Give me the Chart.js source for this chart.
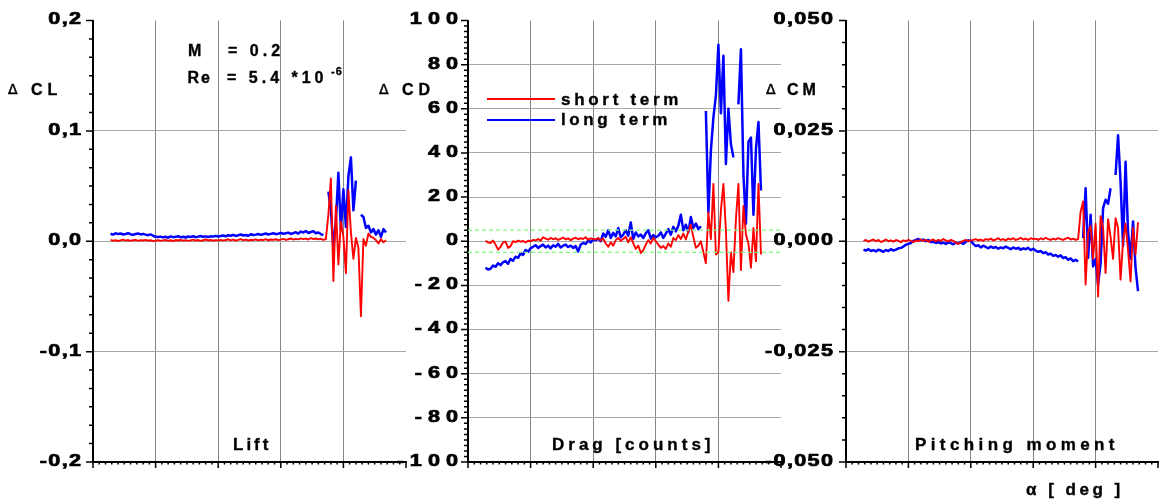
<!DOCTYPE html>
<html>
<head>
<meta charset="utf-8">
<script src="https://cdn.jsdelivr.net/npm/chart.js@4/dist/chart.umd.min.js"></script>
<style>
  html, body { margin: 0; padding: 0; background: #fff; }
  #wrap { position: relative; width: 1160px; height: 502px; overflow: hidden;
          font-family: "Liberation Sans", Arial, sans-serif; color: #000; }
  #wrap canvas { position: absolute; left: 0; top: 0; }
  .t { position: absolute; white-space: pre; line-height: 1; font-weight: 700;
       -webkit-text-stroke: 0.35px #000; }
  .d { position: absolute; white-space: pre; line-height: 1; font-weight: 400;
       font-family: "DejaVu Sans", sans-serif; font-size: 14px; -webkit-text-stroke: 0.5px #000; }
  .key { position: absolute; left: 487px; width: 68px; }
</style>
</head>
<body>
<div id="wrap">
  <canvas id="lift" width="1160" height="502"></canvas>
  <canvas id="drag" width="1160" height="502"></canvas>
  <canvas id="moment" width="1160" height="502"></canvas>

  <!-- axis titles -->
  <div class="d" style="left:8px;top:82px">Δ</div>
  <div class="t" style="left:31px;top:81.5px;font-size:16px;letter-spacing:5px">CL</div>
  <div class="d" style="left:379px;top:82px">Δ</div>
  <div class="t" style="left:402px;top:81.5px;font-size:16px;letter-spacing:5px">CD</div>
  <div class="d" style="left:766px;top:82px">Δ</div>
  <div class="t" style="left:787px;top:81.5px;font-size:16px;letter-spacing:4px">CM</div>

  <!-- test conditions -->
  <div class="t" style="left:188px;top:43.2px;font-size:16px">M</div>
  <div class="t" style="left:228px;top:43.2px;font-size:16px;letter-spacing:4px">= 0.2</div>
  <div class="t" style="left:187.5px;top:69.8px;font-size:16px;letter-spacing:2px">Re</div>
  <div class="t" style="left:227px;top:69.8px;font-size:16px;letter-spacing:4px">= 5.4 *10</div>
  <div class="t" style="left:331px;top:65.7px;font-size:11px;letter-spacing:1px">-6</div>

  <!-- panel names -->
  <div class="t" style="left:233px;top:435.6px;font-size:17px;letter-spacing:3px">Lift</div>
  <div class="t" style="left:552px;top:436px;font-size:17px;letter-spacing:4px">Drag [counts]</div>
  <div class="t" style="left:915px;top:435.6px;font-size:17px;letter-spacing:4.4px">Pitching moment</div>
  <div class="t" style="left:1026px;top:481.1px;font-size:17px;letter-spacing:3.5px">α [ deg ]</div>

  <!-- legend -->
  <div class="key" style="top:97.9px;height:1.8px;background:#ff0000"></div>
  <div class="key" style="top:118.7px;height:2.5px;background:#0000ff"></div>
  <div class="t" style="left:561px;top:90.8px;font-size:17px;letter-spacing:3.7px">short term</div>
  <div class="t" style="left:561px;top:110.8px;font-size:17px;letter-spacing:3.6px">long term</div>
</div>

<script>
// angle of attack, deg
const alpha = [
  -3.6, -3.4, -3.2, -3.0, -2.8, -2.6, -2.4, -2.2, -2.0, -1.8,
  -1.6, -1.4, -1.2, -1.0, -0.8, -0.6, -0.4, -0.2, 0.0, 0.2,
  0.4, 0.6, 0.8, 1.0, 1.2, 1.4, 1.6, 1.8, 2.0, 2.2,
  2.4, 2.6, 2.8, 3.0, 3.2, 3.4, 3.6, 3.8, 4.0, 4.2,
  4.4, 4.6, 4.8, 5.0, 5.2, 5.4, 5.6, 5.8, 6.0, 6.2,
  6.4, 6.6, 6.8, 7.0, 7.2, 7.4, 7.6, 7.8, 8.0, 8.2,
  8.4, 8.6, 8.8, 9.0, 9.2, 9.4, 9.6, 9.8, 10.0, 10.2,
  10.4, 10.6, 10.8, 11.0, 11.2, 11.4, 11.6, 11.8, 12.0, 12.2,
  12.4, 12.6, 12.8, 13.0, 13.2, 13.4, 13.6, 13.8, 14.0, 14.2,
  14.4, 14.6, 14.8, 15.0, 15.2, 15.4, 15.6, 15.8, 16.0, 16.2,
  16.4, 16.6, 16.8, 17.0, 17.2, 17.4, 17.6, 17.8, 18.0, 18.2,
  18.4
];
const alphaMin = -5;
const alphaMax = 20;

// lift difference
const liftShort = [
  0.0012, 0.0005, 0.0010, 0.0002, 0.0008, 0.0014, 0.0006, 0.0011, 0.0003, 0.0009,
  0.0013, 0.0004, 0.0010, 0.0007, 0.0012, 0.0005, 0.0009, 0.0001, 0.0006, 0.0010,
  0.0003, 0.0008, 0.0012, 0.0004, 0.0009, 0.0002, 0.0011, 0.0007, 0.0013, 0.0005,
  0.0010, 0.0003, 0.0008, 0.0014, 0.0006, 0.0011, 0.0004, 0.0009, 0.0016, 0.0007,
  0.0012, 0.0005, 0.0010, 0.0008, 0.0013, 0.0006, 0.0011, 0.0018, 0.0008, 0.0014,
  0.0005, 0.0012, 0.0020, 0.0009, 0.0015, 0.0007, 0.0013, 0.0010, 0.0017, 0.0008,
  0.0014, 0.0011, 0.0019, 0.0009, 0.0016, 0.0012, 0.0018, 0.0010, 0.0015, 0.0021,
  0.0013, 0.0018, 0.0025, 0.0015, 0.0022, 0.0017, 0.0026, 0.0019, 0.0024, 0.0016,
  0.0028, 0.0020, 0.0025, 0.0018, 0.0022, 0.0012, 0.002, 0.024, 0.057, -0.036,
  0.032, -0.021, 0.018, 0.004, -0.029, 0.046, 0.008, -0.016, 0.003, -0.006,
  -0.068, 0.002, -0.004, 0.007, 0.004, 0.003, 0.001, -0.002, 0.002, -0.001,
  0.001
];
const liftLong = [
  0.0068, 0.0060, 0.0072, 0.0065, 0.0070, 0.0061, 0.0066, 0.0073, 0.0064, 0.0058,
  0.0066, 0.0071, 0.0062, 0.0067, 0.0060, 0.0055, 0.0062, 0.0050, 0.0040, 0.0038,
  0.0042, 0.0035, 0.0041, 0.0032, 0.0044, 0.0037, 0.0040, 0.0046, 0.0036, 0.0041,
  0.0034, 0.0043, 0.0039, 0.0045, 0.0037, 0.0042, 0.0048, 0.0040, 0.0044, 0.0038,
  0.0046, 0.0042, 0.0049, 0.0043, 0.0047, 0.0052, 0.0045, 0.0055, 0.0050, 0.0058,
  0.0048, 0.0054, 0.0061, 0.0052, 0.0057, 0.0050, 0.0063, 0.0056, 0.0060, 0.0066,
  0.0058, 0.0064, 0.0070, 0.0061, 0.0067, 0.0073, 0.0064, 0.0069, 0.0075, 0.0068,
  0.0072, 0.0078, 0.0066, 0.0074, 0.0081, 0.0070, 0.0088, 0.0079, 0.0092, 0.0075,
  0.0084, 0.0090, 0.0072, 0.0080, 0.0065, 0.0055, null, 0.045, 0.028, -0.006,
  0.018, 0.062, 0.010, 0.047, 0.013, 0.059, 0.076, 0.028, 0.055, null,
  0.024, 0.022, 0.012, 0.014, 0.008, 0.011, 0.006, 0.010, 0.004, 0.011,
  0.008
];

// drag difference, counts
const dragShort = [
  0.2, -0.5, -0.8, 0.3, -1.5, -3.8, -2.5, -0.6, -0.2, -3.0,
  -2.2, 0.0, -0.4, 0.3, -0.2, 0.1, -0.5, 0.2, 0.0, 0.6,
  0.4, 1.0, 0.3, 1.8, 1.2, 0.7, 1.5, 0.9, 1.4, 0.6,
  1.1, 1.7, 0.8, 1.3, 0.5, 1.2, 1.6, 0.9, 1.4, 1.0,
  1.8, 0.7, 1.3, 1.1, 0.8, 1.5, 0.3, 1.2, -1.0, -2.5,
  -0.5, -2.0, 0.5, 1.5, 0.2, 1.0, 2.0, -0.5, 1.8, -0.8,
  -3.5, -2.0, -5.3, -4.0, -1.5, 0.5, -1.0, 1.5, 0.0, -1.5,
  -3.0, -2.2, -3.5, -1.0, -2.5, 1.5, 0.5, 2.8, 1.0, 3.5,
  0.8, 4.5, 7.5, 2.0, -3.0, -2, 0, -5, -10, 13,
  1, 26, -6, -5, 14, 26, 5, -27, -5, -14,
  10, 26, -13, 16, 3, -1, -12, 6, -9, 26,
  -6
];
const dragLong = [
  -12.0, -12.8, -12.5, -11.0, -11.5, -10.0, -10.8, -9.5, -9.0, -10.2,
  -8.0, -8.8, -7.0, -7.5, -5.5, -6.2, -4.0, -4.8, -3.2, -2.5,
  -1.8, -3.0, -2.2, -1.5, -2.8, -2.0, -3.2, -1.8, -2.5, -1.2,
  -2.8, -2.0, -1.5, -2.6, -2.0, -3.0, -2.2, -4.6, -1.5, -0.8,
  -1.2, 0.3, -0.5, 0.8, 0.5, 1.2, 0.0, 3.5, 2.0, 5.0,
  1.5, 3.8, 2.2, 6.0, 1.8, 3.0, 5.0, 2.5, 8.5, 1.0,
  4.0, 2.2, 3.0, 1.5, 3.6, 5.0, 1.2, 2.8, 1.8, 2.5,
  4.0, 1.5, 3.5, 5.5, 3.0, 6.5, 4.5, 7.0, 12.0, 5.0,
  7.5, 4.0, 11.0, 6.0, 8.0, 5.5, 6.8, null, 59, 13,
  41, 56, 66, 89, 58, 84, 35, 60, 44, 38,
  null, 62, 87, 30, 8, 45, 47, 12, 42, 54,
  23
];
// repeatability band, counts
const dragBand = [5, -5];

// pitching moment difference
const momentShort = [
  0.0001, 0.0003, -0.0001, 0.0002, 0.0004, 0.0000, 0.0003, -0.0002, 0.0001, 0.0004,
  0.0000, 0.0002, -0.0001, 0.0003, 0.0001, -0.0002, 0.0002, 0.0000, 0.0003, 0.0001,
  -0.0002, 0.0002, 0.0000, 0.0004, 0.0001, 0.0003, -0.0001, 0.0002, 0.0004, 0.0000,
  0.0003, 0.0001, 0.0005, 0.0002, 0.0000, 0.0003, 0.0001, -0.0003, -0.0006, -0.0002,
  0.0001, 0.0003, 0.0000, 0.0002, 0.0003, 0.0005, 0.0002, 0.0004, 0.0001, 0.0005,
  0.0003, 0.0006, 0.0002, 0.0004, 0.0007, 0.0003, 0.0005, 0.0002, 0.0006, 0.0004,
  0.0007, 0.0003, 0.0005, 0.0008, 0.0004, 0.0006, 0.0003, 0.0007, 0.0005, 0.0006,
  0.0003, 0.0007, 0.0004, 0.0008, 0.0005, 0.0003, 0.0006, 0.0004, 0.0007, 0.0005,
  0.0003, 0.0006, 0.0008, 0.0004, 0.0006, 0.0003, 0.0005, 0.0067, 0.009, -0.0098,
  0.002, 0.0035, -0.004, 0.004, -0.0125, 0.0057, 0.003, -0.0072, 0.005, 0.001,
  -0.004, 0.0052, 0.003, -0.0087, 0.000, 0.004, -0.002, -0.0091, 0.003, -0.003,
  0.0043
];
const momentLong = [
  -0.0019, -0.0021, -0.0018, -0.0022, -0.0020, -0.0023, -0.0019, -0.0021, -0.0024, -0.0020,
  -0.0022, -0.0018, -0.0021, -0.0019, -0.0016, -0.0015, -0.0012, -0.0008, -0.0006, -0.0004,
  0.0001, 0.0003, 0.0005, 0.0002, 0.0004, 0.0000, 0.0003, -0.0002, -0.0001, -0.0004,
  -0.0002, -0.0005, -0.0003, -0.0006, -0.0002, -0.0004, -0.0007, -0.0003, -0.0005, -0.0002,
  -0.0006, -0.0001, 0.0002, 0.0001, -0.0006, -0.0011, -0.0009, -0.0014, -0.0010, -0.0013,
  -0.0016, -0.0012, -0.0015, -0.0013, -0.0017, -0.0014, -0.0016, -0.0012, -0.0015, -0.0018,
  -0.0014, -0.0017, -0.0015, -0.0019, -0.0016, -0.0018, -0.0015, -0.0020, -0.0017, -0.0021,
  -0.0024, -0.0022, -0.0027, -0.0025, -0.0030, -0.0028, -0.0033, -0.0031, -0.0035, -0.0032,
  -0.0038, -0.0036, -0.0042, -0.0039, -0.0045, -0.0042, -0.0046, null, 0.0007, 0.012,
  -0.0038, 0.006, -0.0057, -0.004, -0.0098, -0.005, 0.0075, 0.0094, 0.0085, 0.012,
  null, 0.015, 0.024, 0.0135, -0.001, 0.018, 0.002, -0.004, 0.0045, -0.006,
  -0.0113
];

// y tick values and their printed labels
const liftTicks = [0.2, 0.1, 0, -0.1, -0.2];
const liftTickLabels = ['0,2', '0,1', '0,0', '-0,1', '-0,2'];
const dragTicks = [100, 80, 60, 40, 20, 0, -20, -40, -60, -80, -100];
const dragTickLabels = ['100', '80', '60', '40', '20', '0', '-20', '-40', '-60', '-80', '-100'];
const momentTicks = [0.05, 0.025, 0, -0.025, -0.05];
const momentTickLabels = ['0,050', '0,025', '0,000', '-0,025', '-0,050'];

const RED = '#ff0000';
const BLUE = '#0000ff';

// tick marks (major + minor) and wide, spaced bold tick labels
const axisDecor = {
  id: 'axisDecor',
  afterDraw(chart, _args, o) {
    const { ctx, chartArea: a } = chart;
    const xs = chart.scales.x, ys = chart.scales.y;
    ctx.save();
    ctx.strokeStyle = '#000';
    ctx.lineWidth = 1.5;
    ctx.beginPath();
    const yMinor = o.yStep / o.yPerMajor;
    const ny = Math.round((ys.max - ys.min) / yMinor);
    for (let i = 0; i <= ny; i++) {
      const py = ys.getPixelForValue(ys.min + i * yMinor);
      const len = i % o.yPerMajor === 0 ? 7 : 4;
      ctx.moveTo(a.left - len, py);
      ctx.lineTo(a.left, py);
    }
    const xMinor = 0.5;
    const nx = Math.round((xs.max - xs.min) / xMinor);
    for (let i = 0; i <= nx; i++) {
      const px = xs.getPixelForValue(xs.min + i * xMinor);
      const len = i % 10 === 0 ? 6 : 2.5;
      ctx.moveTo(px, a.bottom);
      ctx.lineTo(px, a.bottom + len);
    }
    ctx.stroke();

    ctx.fillStyle = '#000';
    ctx.lineWidth = 0.7;
    ctx.font = 'bold 16px "Liberation Sans", Arial, sans-serif';
    ctx.textBaseline = 'middle';
    ctx.textAlign = 'left';
    o.ticks.forEach((v, k) => {
      const chars = [...o.labels[k]];
      const widths = chars.map((ch) => ctx.measureText(ch).width);
      const total = widths.reduce((s, w) => s + w, 0) + o.spacing * (chars.length - 1);
      ctx.save();
      ctx.translate(a.left - o.gap, ys.getPixelForValue(v) - 0.5);
      ctx.scale(1.35, 1);
      let cx = -total;
      chars.forEach((ch, j) => {
        ctx.fillText(ch, cx, 0);
        ctx.strokeText(ch, cx, 0);
        cx += widths[j] + o.spacing;
      });
      ctx.restore();
    });
    ctx.restore();
  }
};

function series(values) {
  return alpha.map((a, i) => ({ x: a, y: values[i] }));
}

function line(values, color, width) {
  return {
    data: series(values),
    borderColor: color,
    borderWidth: width,
    borderJoinStyle: 'round',
    pointRadius: 0,
    tension: 0,
    spanGaps: false
  };
}

function gridColor(min, max, color) {
  return (c) => {
    if (!c.tick) return color;
    const v = c.tick.value;
    return (Math.abs(v - min) < 1e-9 || Math.abs(v - max) < 1e-9) ? 'rgba(0,0,0,0)' : color;
  };
}

function makePanel(id, p) {
  return new Chart(document.getElementById(id), {
    type: 'line',
    data: { datasets: p.datasets },
    options: {
      responsive: false,
      animation: false,
      events: [],
      layout: { padding: { left: p.left, right: 1160 - p.right, top: 20.5, bottom: 40 } },
      plugins: {
        legend: { display: false },
        tooltip: { enabled: false },
        axisDecor: {
          yStep: p.yStep, yPerMajor: p.yPerMajor,
          ticks: p.ticks, labels: p.labels,
          gap: p.gap, spacing: p.spacing
        }
      },
      scales: {
        x: {
          type: 'linear',
          min: alphaMin, max: alphaMax,
          ticks: { stepSize: 5, display: false },
          grid: { color: gridColor(alphaMin, alphaMax, '#858585'), lineWidth: 1, drawTicks: false },
          border: { display: true, color: '#000', width: 2 },
          afterFit: (s) => { s.height = 0; }
        },
        y: {
          min: p.yMin, max: p.yMax,
          ticks: { stepSize: p.yStep, display: false },
          grid: { color: gridColor(p.yMin, p.yMax, '#a8a8a8'), lineWidth: 1, drawTicks: false },
          border: { display: true, color: '#000', width: 2 },
          afterFit: (s) => { s.width = 0; }
        }
      }
    },
    plugins: [axisDecor]
  });
}

makePanel('lift', {
  left: 93, right: 406,
  yMin: -0.2, yMax: 0.2, yStep: 0.1, yPerMajor: 6,
  ticks: liftTicks, labels: liftTickLabels, gap: 12, spacing: 1,
  datasets: [line(liftShort, RED, 1.9), line(liftLong, BLUE, 2.5)]
});

const bandLine = (y) => ({
  data: [{ x: alphaMin, y }, { x: alphaMax, y }],
  borderColor: '#7dff7d',
  borderWidth: 1.3,
  borderDash: [4, 3],
  pointRadius: 0
});

makePanel('drag', {
  left: 468, right: 781,
  yMin: -100, yMax: 100, yStep: 20, yPerMajor: 8,
  ticks: dragTicks, labels: dragTickLabels, gap: 10, spacing: 4.5,
  datasets: [
    bandLine(dragBand[0]), bandLine(dragBand[1]),
    line(dragShort, RED, 1.9), line(dragLong, BLUE, 2.5)
  ]
});

makePanel('moment', {
  left: 846, right: 1158,
  yMin: -0.05, yMax: 0.05, yStep: 0.025, yPerMajor: 5,
  ticks: momentTicks, labels: momentTickLabels, gap: 13, spacing: 1,
  datasets: [line(momentShort, RED, 1.9), line(momentLong, BLUE, 2.5)]
});
</script>
</body>
</html>
